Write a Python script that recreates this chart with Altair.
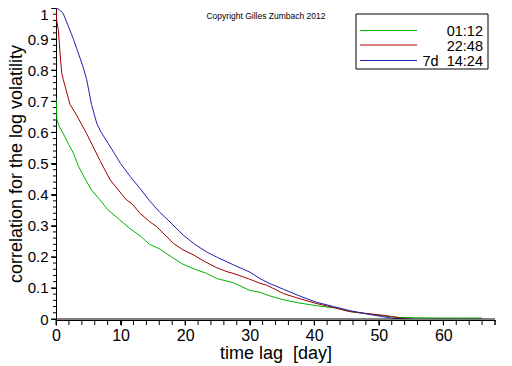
import altair as alt
import pandas as pd

# ---- data ----
series_names = ["01:12", "22:48", "7d\u00a0 14:24"]
series_colors = ["#00b400", "#a00000", "#2020b0"]

green_lag = [0, 0.15, 0.5, 1.1, 2.0, 2.7, 3.5, 4.6, 5.5, 6.8, 8.0, 9.9, 11.5, 13.0, 14.5, 16.1, 17.5, 19.5,
             21.5, 23.3, 24.9, 27.4, 30.0, 31.6, 33.0, 35.2, 37.5, 40.3, 43.4, 45.5, 47.5, 49.6, 51.0, 53.2,
             56.0, 60.0, 63.0, 66.0]
green_val = [0.71, 0.64, 0.62, 0.597, 0.56, 0.533, 0.49, 0.447, 0.415, 0.383, 0.352, 0.318, 0.29, 0.268, 0.24,
             0.225, 0.205, 0.178, 0.16, 0.147, 0.13, 0.117, 0.092, 0.086, 0.075, 0.062, 0.052, 0.043, 0.035,
             0.024, 0.018, 0.013, 0.009, 0.005, 0.004, 0.003, 0.003, 0.003]

red_lag = [0, 0.1, 0.36, 0.5, 0.72, 0.9, 1.13, 1.65, 2.17, 3.2, 4.75, 6.8, 8.4, 10.9, 11.8, 13.0, 14.5, 15.6,
           18.2, 19.7, 21.3, 23.0, 24.9, 26.5, 27.4, 30.0, 31.6, 32.6, 33.5, 35.2, 37.0, 40.3, 43.0, 45.5,
           48.0, 50.7, 52.0, 54.3, 57.0, 60.0, 63.0]
red_val = [1.0, 0.96, 0.93, 0.89, 0.83, 0.79, 0.77, 0.73, 0.69, 0.655, 0.596, 0.51, 0.447, 0.383, 0.37, 0.34,
           0.313, 0.297, 0.243, 0.222, 0.206, 0.185, 0.165, 0.152, 0.147, 0.128, 0.115, 0.109, 0.1, 0.082,
           0.07, 0.05, 0.037, 0.024, 0.018, 0.012, 0.008, 0.0, -0.003, -0.003, -0.002]

blue_lag = [0, 0.5, 1.1, 1.65, 2.7, 3.2, 4.2, 4.75, 5.5, 6.3, 7.0, 8.4, 10.0, 11.5, 13.0, 14.5, 16.0, 18.0,
            19.7, 21.5, 23.3, 25.0, 27.4, 30.0, 31.6, 33.0, 35.2, 37.5, 40.3, 43.0, 45.5, 48.0, 50.7, 52.0,
            53.7, 56.0, 60.0, 64.0, 67.5]
blue_val = [1.0, 0.995, 0.983, 0.955, 0.9, 0.87, 0.81, 0.77, 0.69, 0.63, 0.6, 0.554, 0.5, 0.458, 0.42, 0.38,
            0.345, 0.305, 0.27, 0.24, 0.216, 0.198, 0.175, 0.151, 0.13, 0.115, 0.096, 0.076, 0.054, 0.04,
            0.027, 0.017, 0.007, 0.003, 0.0, -0.002, -0.002, -0.003, -0.003]

x_major = [0, 10, 20, 30, 40, 50, 60]
x_minor = [v for v in range(0, 69, 2) if v % 10 != 0]
y_major = [round(i * 0.1, 1) for i in range(11)]
y_minor = [round(i * 0.02, 2) for i in range(51) if i % 5 != 0]

rows = []
for name, lags, vals in [(series_names[0], green_lag, green_val),
                         (series_names[1], red_lag, red_val),
                         (series_names[2], blue_lag, blue_val)]:
    for i, (d, v) in enumerate(zip(lags, vals)):
        rows.append({"series": name, "lag": d, "corr": v, "order": i})
df = pd.DataFrame(rows)

FONT = "Liberation Sans"
H = 311
X_TITLE = "time lag\u00a0 [day]"
Y_TITLE = "correlation for the log volatility"
XSCALE = alt.Scale(domain=[0, 68], nice=False, zero=False)
YSCALE = alt.Scale(domain=[0, 1], nice=False)

X_AXIS = alt.Axis(values=x_major, format="d",
                  labelOverlap=False, labelFlush=False, ticks=True,
                  offset=1, tickSize=5, tickWidth=1, labelPadding=2, labelFontSize=16,
                  labelFont=FONT, titleFont=FONT, titleFontSize=18,
                  titleFontWeight="normal", grid=False,
                  titleX=219.5, titleY=38, titleAlign="center", titleBaseline="alphabetic",
                  domainColor="black", tickColor="black", labelColor="black",
                  titleColor="black")
Y_AXIS = alt.Axis(values=y_major,
                  labelExpr="format(datum.value, '~g')",
                  labelOverlap=False, labelFlush=False, ticks=True,
                  tickSize=5, tickWidth=1,
                  labelOffset={"condition": {"test": "datum.value == 1", "value": 6}, "value": 0},
                  labelPadding=3, labelFontSize=15,
                  labelFont=FONT, titleFont=FONT, titleFontSize=18,
                  titleFontWeight="normal", grid=False,
                  titleX=-40, titleY=155.5, titleAngle=270, titleAlign="center",
                  titleBaseline="middle",
                  domainColor="black", tickColor="black", labelColor="black",
                  titleColor="black")


def xq(field):
    return alt.X(field, title=X_TITLE, scale=XSCALE, axis=X_AXIS)


def yq(field):
    return alt.Y(field, title=Y_TITLE, scale=YSCALE, axis=Y_AXIS)


lines = alt.Chart(df).mark_line(strokeWidth=1, clip=True, interpolate="linear").encode(
    x=xq("lag:Q"), y=yq("corr:Q"),
    color=alt.Color("series:N", scale=alt.Scale(domain=series_names, range=series_colors), legend=None),
    order="order:Q",
    detail="series:N",
)

zero_rule = alt.Chart(pd.DataFrame({"z": [0]})).mark_rule(color="black", strokeWidth=1).encode(
    y=yq("z:Q"))

# axis tick marks (major and minor), placed through the chart's own scales
y_minor_ticks = alt.Chart(pd.DataFrame({"v": y_minor})).mark_rule(color="black", strokeWidth=1).encode(
    y=yq("v:Q"), x=alt.value(-3), x2=alt.value(0))
y_major_ticks = alt.Chart(pd.DataFrame({"v": y_major})).mark_rule(color="black", strokeWidth=1).encode(
    y=yq("v:Q"), x=alt.value(-5), x2=alt.value(0))
x_all_ticks = alt.Chart(pd.DataFrame({"v": sorted(x_minor + x_major + [68])})).mark_rule(
    color="black", strokeWidth=1).encode(
    x=xq("v:Q"), y=alt.value(H + 1), y2=alt.value(H + 6))

copyright_txt = alt.Chart(pd.DataFrame({"t": ["Copyright Gilles Zumbach 2012"]})).mark_text(
    font=FONT, fontSize=8.5, color="black", align="center", baseline="middle").encode(
    x=alt.value(210), y=alt.value(8), text="t:N")

legend_box = alt.Chart(pd.DataFrame({"b": [0]})).mark_rect(
    fill="white", stroke="black", strokeWidth=1).encode(
    x=alt.value(300), x2=alt.value(432), y=alt.value(6), y2=alt.value(61))

legend_layers = []
line_ys = [22.5, 37, 52.5]
text_ys = [23.5, 38.5, 54]
for i, name in enumerate(series_names):
    ldf = pd.DataFrame({"name": [name]})
    legend_layers.append(alt.Chart(ldf).mark_rule(color=series_colors[i], strokeWidth=1).encode(
        x=alt.value(304), x2=alt.value(361), y=alt.value(line_ys[i])))
    legend_layers.append(alt.Chart(ldf).mark_text(
        font=FONT, fontSize=14.5, color="black", align="right", baseline="middle").encode(
        x=alt.value(427), y=alt.value(text_ys[i]), text="name:N"))

chart = alt.layer(lines, zero_rule, y_minor_ticks, y_major_ticks, x_all_ticks, copyright_txt,
                  legend_box, *legend_layers).properties(
    width=439, height=H,
    padding={"left": 48, "top": 0, "right": 8, "bottom": 47},
    autosize=alt.AutoSizeParams(type="none"),
    background="white",
).configure_view(stroke=None)

chart.save("out.html", embed_options={"renderer": "svg", "actions": False})
